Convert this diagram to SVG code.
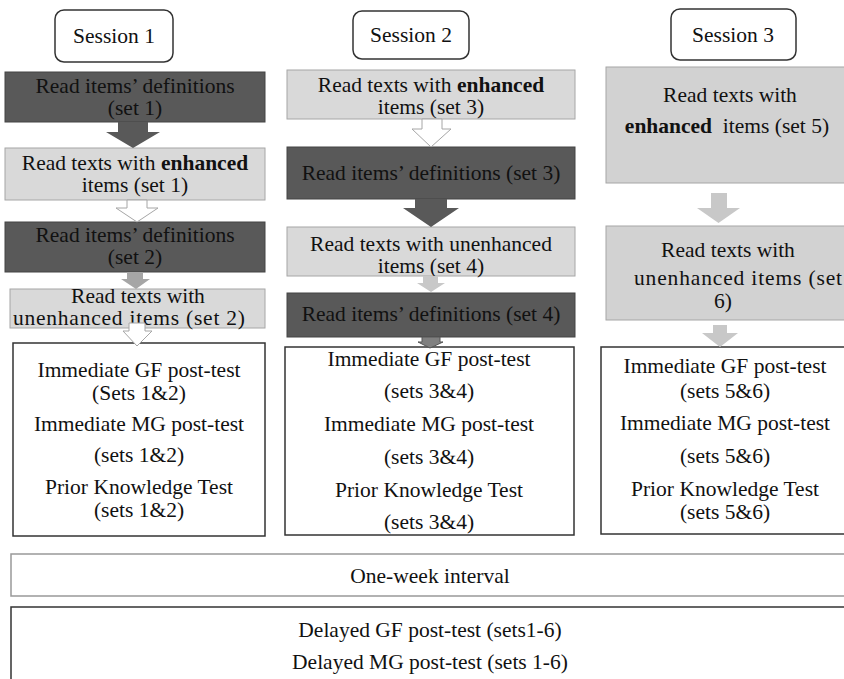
<svg xmlns="http://www.w3.org/2000/svg" width="844" height="679" viewBox="0 0 844 679">
<style>
.b{font-weight:bold}
.sess{fill:#fff;stroke:#333;stroke-width:1.5}
.dark{fill:#595959;stroke:#444;stroke-width:1}
.light{fill:#d9d9d9;stroke:#a6a6a6;stroke-width:1}
.mid{fill:#d2d2d2;stroke:#a6a6a6;stroke-width:1}
.test{fill:#fff;stroke:#333;stroke-width:1.5}
.wk{fill:#fff;stroke:#999;stroke-width:1.5}
.a-dark{fill:#595959}
.a-out{fill:#fff;stroke:#a6a6a6;stroke-width:1}
.a-gray{fill:#a6a6a6}
.a-lt{fill:#c8c8c8}
.a-mg{fill:#808080;stroke:#555;stroke-width:1}
</style>
<rect width="844" height="679" fill="#fff"/>
<g font-size="21.5" fill="#111" text-anchor="middle">
<g id="session1"><rect class="sess" x="55" y="10" width="118" height="52" rx="9"/><text style="font-family:'Liberation Serif',serif" x="114" y="43">Session 1</text></g>
<g id="session2"><rect class="sess" x="353" y="11" width="116" height="48" rx="9"/><text style="font-family:'Liberation Serif',serif" x="411" y="42">Session 2</text></g>
<g id="session3"><rect class="sess" x="671" y="9" width="125" height="51" rx="9"/><text style="font-family:'Liberation Serif',serif" x="733" y="42">Session 3</text></g>

<g id="s1-def1"><rect class="dark" x="5" y="72" width="260" height="50"/><text style="font-family:'Liberation Serif',serif" x="135" y="93">Read items’ definitions</text><text style="font-family:'Liberation Serif',serif" x="135" y="115">(set 1)</text></g>
<g id="s1-enh1"><rect class="light" x="5" y="148" width="260" height="52"/><text style="font-family:'Liberation Serif',serif" x="135" y="170">Read texts with <tspan class="b">enhanced</tspan></text><text style="font-family:'Liberation Serif',serif" x="135" y="192">items (set 1)</text></g>
<g id="s1-def2"><rect class="dark" x="5" y="222" width="260" height="50"/><text style="font-family:'Liberation Serif',serif" x="135" y="242">Read items’ definitions</text><text style="font-family:'Liberation Serif',serif" x="135" y="264">(set 2)</text></g>
<g id="s1-unenh2"><rect class="light" x="10" y="289" width="255" height="39"/><text style="font-family:'Liberation Serif',serif" x="138" y="303">Read texts with</text><text style="font-family:'Liberation Serif',serif" x="129" y="325" textLength="232" lengthAdjust="spacing">unenhanced items (set 2)</text></g>
<g id="s1-tests"><rect class="test" x="13" y="343" width="252" height="193"/><text style="font-family:'Liberation Serif',serif" x="139" y="377">Immediate GF post-test</text><text style="font-family:'Liberation Serif',serif" x="139" y="400">(Sets 1&amp;2)</text><text style="font-family:'Liberation Serif',serif" x="139" y="431">Immediate MG post-test</text><text style="font-family:'Liberation Serif',serif" x="139" y="462">(sets 1&amp;2)</text><text style="font-family:'Liberation Serif',serif" x="139" y="494">Prior Knowledge Test</text><text style="font-family:'Liberation Serif',serif" x="139" y="517">(sets 1&amp;2)</text></g>

<g id="s2-enh3"><rect class="light" x="287" y="70" width="288" height="49"/><text style="font-family:'Liberation Serif',serif" x="431" y="92">Read texts with <tspan class="b">enhanced</tspan></text><text style="font-family:'Liberation Serif',serif" x="431" y="114">items (set 3)</text></g>
<g id="s2-def3"><rect class="dark" x="287" y="147" width="288" height="52"/><text style="font-family:'Liberation Serif',serif" x="431" y="180">Read items’ definitions (set 3)</text></g>
<g id="s2-unenh4"><rect class="light" x="287" y="227" width="288" height="49"/><text style="font-family:'Liberation Serif',serif" x="431" y="251">Read texts with unenhanced</text><text style="font-family:'Liberation Serif',serif" x="431" y="273">items (set 4)</text></g>
<g id="s2-def4"><rect class="dark" x="287" y="293" width="288" height="44"/><text style="font-family:'Liberation Serif',serif" x="431" y="321">Read items’ definitions (set 4)</text></g>
<g id="s2-tests"><rect class="test" x="285" y="347" width="289" height="188"/><text style="font-family:'Liberation Serif',serif" x="429" y="366">Immediate GF post-test</text><text style="font-family:'Liberation Serif',serif" x="429" y="398">(sets 3&amp;4)</text><text style="font-family:'Liberation Serif',serif" x="429" y="431">Immediate MG post-test</text><text style="font-family:'Liberation Serif',serif" x="429" y="464">(sets 3&amp;4)</text><text style="font-family:'Liberation Serif',serif" x="429" y="497">Prior Knowledge Test</text><text style="font-family:'Liberation Serif',serif" x="429" y="529">(sets 3&amp;4)</text></g>

<g id="s3-enh5"><rect class="mid" x="606" y="67" width="250" height="116"/><text style="font-family:'Liberation Serif',serif" x="730" y="102">Read texts with</text><text style="font-family:'Liberation Serif',serif" x="727" y="133" xml:space="preserve"><tspan class="b">enhanced</tspan>  items (set 5)</text></g>
<g id="s3-unenh6"><rect class="mid" x="606" y="226" width="250" height="94"/><text style="font-family:'Liberation Serif',serif" x="728" y="257">Read texts with</text><text style="font-family:'Liberation Serif',serif" x="738" y="285" textLength="208" lengthAdjust="spacing">unenhanced items (set</text><text style="font-family:'Liberation Serif',serif" x="723" y="308">6)</text></g>
<g id="s3-tests"><rect class="test" x="601" y="347" width="255" height="187"/><text style="font-family:'Liberation Serif',serif" x="725" y="373">Immediate GF post-test</text><text style="font-family:'Liberation Serif',serif" x="725" y="398">(sets 5&amp;6)</text><text style="font-family:'Liberation Serif',serif" x="725" y="430">Immediate MG post-test</text><text style="font-family:'Liberation Serif',serif" x="725" y="463">(sets 5&amp;6)</text><text style="font-family:'Liberation Serif',serif" x="725" y="496">Prior Knowledge Test</text><text style="font-family:'Liberation Serif',serif" x="725" y="519">(sets 5&amp;6)</text></g>

<g id="interval"><rect class="wk" x="11" y="554" width="845" height="42"/><text style="font-family:'Liberation Serif',serif" x="430" y="583">One-week interval</text></g>
<g id="delayed"><rect class="test" x="11" y="607" width="845" height="90"/><text style="font-family:'Liberation Serif',serif" x="430" y="637">Delayed GF post-test (sets1-6)</text><text style="font-family:'Liberation Serif',serif" x="430" y="669">Delayed MG post-test (sets 1-6)</text></g>
</g>

<g id="connectors">
<polygon class="a-dark" points="118,122 148,122 148,132 160,132 133,148 106,132 118,132"/>
<polygon class="a-out" points="127,200 147,200 147,208 158,208 137,222 116,208 127,208"/>
<polygon class="a-gray" points="127,272 143,272 143,279 150,279 136,289 121,279 127,279"/>
<polygon class="a-out" points="129,323 145,323 145,331 152,331 137,346 123,331 129,331"/>
<polygon class="a-out" points="422,119 442,119 442,129 451,129 431,147 412,129 422,129"/>
<polygon class="a-dark" points="415,199 447,199 447,208 459,208 431,227 403,208 415,208"/>
<polygon class="a-lt" points="423,276 438,276 438,283 445,283 431,292 417,283 423,283"/>
<polygon class="a-mg" points="422,337 440,337 440,342 443,342 430,348 418,342 422,342"/>
<polygon class="a-lt" points="711,193 727,193 727,208 740,208 718.5,223 697,208 711,208"/>
<polygon class="a-lt" points="713,325 727,325 727,333 738,333 720,347 702,333 713,333"/>
</g>
</svg>
